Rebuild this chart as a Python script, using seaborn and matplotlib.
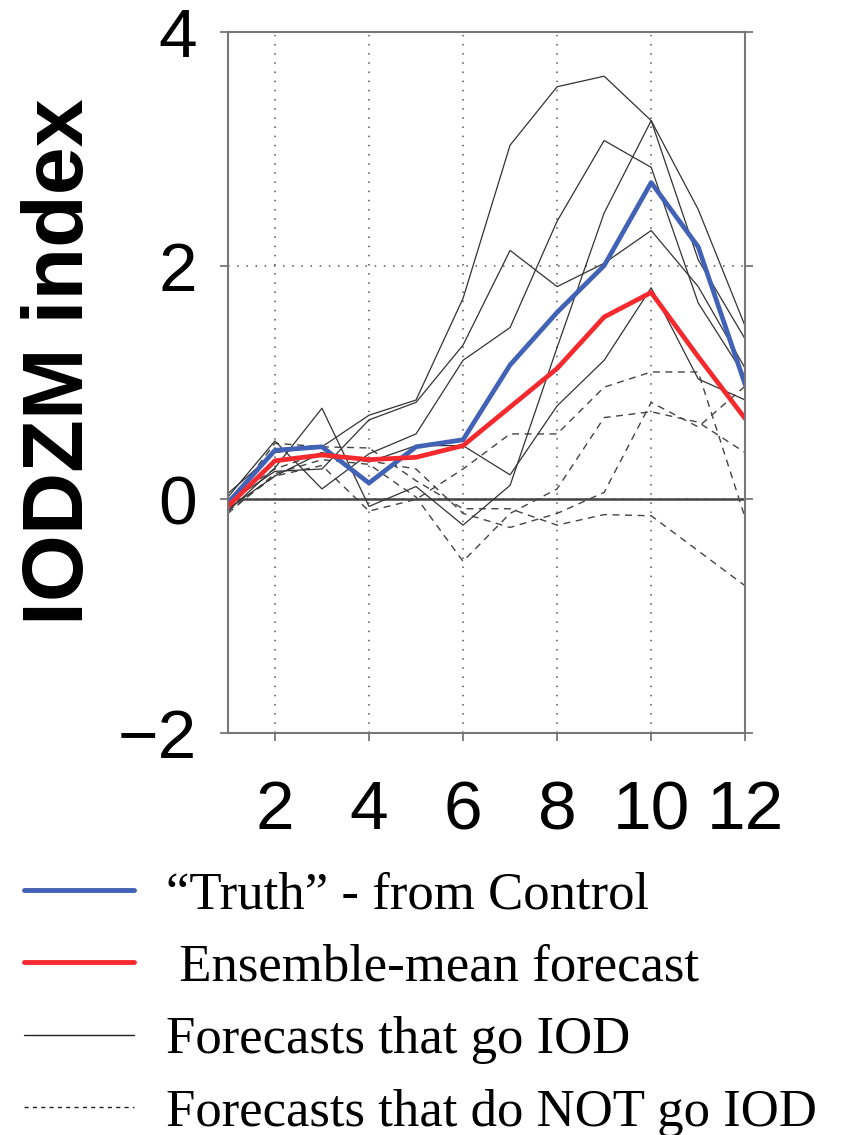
# Import library
import numpy as np
import pandas as pd
import seaborn as sns
import matplotlib.pyplot as plt
from matplotlib.lines import Line2D

# lead month of the forecast
months = list(range(1, 13))

# "Truth" from the control run and the ensemble-mean forecast
truth = [-0.03, 0.42, 0.45, 0.14, 0.45, 0.51, 1.15, 1.60, 2.00, 2.71, 2.16, 0.98]
ensMean = [-0.06, 0.33, 0.38, 0.34, 0.36, 0.46, 0.79, 1.12, 1.56, 1.77, 1.22, 0.69]

# members that develop an IOD event (solid)
iodA = [0.05, 0.40, 0.45, 0.72, 0.85, 1.72, 3.03, 3.53, 3.62, 3.24, 2.48, 1.48]
iodB = [-0.03, 0.24, 0.26, 0.68, 0.83, 1.32, 2.13, 1.82, 2.02, 2.30, 1.82, 1.12]
iodC = [0.02, 0.50, 0.09, 0.39, 0.56, 1.19, 1.47, 2.38, 3.07, 2.84, 1.68, 1.05]
iodD = [-0.10, 0.27, 0.78, -0.06, 0.11, -0.22, 0.12, 1.30, 2.45, 3.24, 2.05, 1.37]
iodE = [-0.08, 0.20, 0.40, 0.32, 0.46, 0.46, 0.21, 0.80, 1.19, 1.81, 1.03, 0.85]

# members that do not develop an IOD event (dashed)
notA = [-0.05, 0.48, 0.45, 0.44, 0.16, -0.08, -0.08, -0.22, -0.13, -0.14, -0.44, -0.74]
notB = [-0.10, 0.20, 0.29, -0.10, 0.00, 0.26, 0.56, 0.56, 0.96, 1.09, 1.09, -0.16]
notC = [0.00, 0.26, 0.40, 0.33, 0.26, -0.12, -0.24, -0.12, 0.06, 0.83, 0.62, 0.97]
notD = [-0.12, 0.22, 0.34, 0.30, 0.02, -0.53, -0.12, 0.09, 0.70, 0.75, 0.66, 0.40]

legendLabels = ['\u201cTruth\u201d - from Control', ' Ensemble-mean forecast',
                'Forecasts that go IOD', 'Forecasts that do NOT go IOD']

truthColor = '#4262b5'
ensColor = '#f42a2e'


# long dataframes for the spaghetti lines
def toLong(members):
    rows = []
    for name, vals in members.items():
        for m, v in zip(months, vals):
            rows.append({'month': m, 'value': v, 'member': name})
    return pd.DataFrame(rows)


iodDf = toLong({'A': iodA, 'B': iodB, 'C': iodC, 'D': iodD, 'E': iodE})
notDf = toLong({'A': notA, 'B': notB, 'C': notC, 'D': notD})

sns.set_style('white')
plt.rcParams['font.family'] = ['Liberation Sans', 'DejaVu Sans']
plt.rcParams['text.color'] = 'black'
plt.rcParams['axes.labelcolor'] = 'black'
plt.rcParams['xtick.labelcolor'] = 'black'
plt.rcParams['ytick.labelcolor'] = 'black'

fig = plt.figure(figsize=(8.44, 11.35), dpi=100)
ax = fig.add_axes([0.270, 0.354, 0.613, 0.618])

ax.grid(True, linestyle=(0, (1, 5)), color='#555555', lw=1.1)
ax.axhline(0, color='#444444', lw=1.8, zorder=1)

sns.lineplot(data=notDf, x='month', y='value', units='member', estimator=None,
             color='#444444', lw=1.0, linestyle=(0, (5, 4)), ax=ax, legend=False)
sns.lineplot(data=iodDf, x='month', y='value', units='member', estimator=None,
             color='#333333', lw=0.9, ax=ax, legend=False)
sns.lineplot(x=months, y=truth, color=truthColor, lw=3.4, ax=ax)
sns.lineplot(x=months, y=ensMean, color=ensColor, lw=3.4, ax=ax)

ax.set_xlim(1, 12)
ax.set_ylim(-2, 4)
ax.set_xticks([2, 4, 6, 8, 10, 12])
ax.set_yticks([-2, 0, 2, 4])
ax.set_xlabel('')
ax.set_ylabel('IODZM index', fontsize=62, fontweight='bold', color='black')
ax.yaxis.set_label_coords(-0.322, 0.529)
ax.yaxis.label.set_va('center')

for sp in ax.spines.values():
    sp.set_color('#777777')
    sp.set_linewidth(1.5)

ax.tick_params(axis='both', labelsize=50, length=6, width=1.3, color='#777777',
               labelcolor='black')
ax.tick_params(axis='x', pad=27, bottom=True)
ax.tick_params(axis='y', pad=16, left=True, right=True)

# legend below the axes
handles = [Line2D([], [], color=truthColor, lw=3.5),
           Line2D([], [], color=ensColor, lw=3.5),
           Line2D([], [], color='#222222', lw=1.0),
           Line2D([], [], color='#222222', lw=1.0, linestyle=(0, (3, 3)))]
leg = fig.legend(handles, legendLabels, loc='upper left', bbox_to_anchor=(0.028, 0.232),
                 frameon=False, prop={'family': 'Liberation Serif', 'size': 38},
                 handlelength=2.1, handletextpad=0.6, labelspacing=0.46,
                 borderpad=0, borderaxespad=0)
for t in leg.get_texts():
    t.set_color('black')

fig.savefig('out.png', dpi=100)
